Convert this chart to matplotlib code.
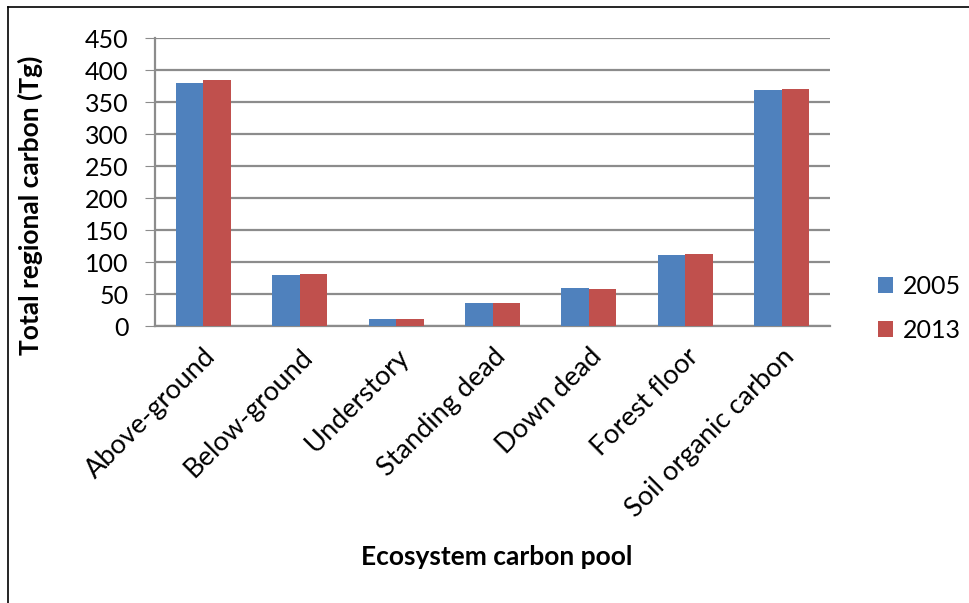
import numpy as np
import matplotlib
matplotlib.use("Agg")
import matplotlib.pyplot as plt
from matplotlib.lines import Line2D

plt.rcParams['font.family'] = ['Lato', 'DejaVu Sans']

# Data
pools = ["Above-ground", "Below-ground", "Understory", "Standing dead",
         "Down dead", "Forest floor", "Soil organic carbon"]
carbon_2005 = [380, 80, 11, 36, 59, 111, 368]
carbon_2013 = [385, 81, 11, 36, 58, 113, 371]
yticks = [0, 50, 100, 150, 200, 250, 300, 350, 400, 450]

fig = plt.figure(figsize=(9.69, 6.03), dpi=100)
ax = fig.add_axes([155 / 969, 1 - 326 / 603, (830 - 155) / 969, (326 - 38) / 603])

x = np.arange(len(pools))
w = 0.285
ax.bar(x - w / 2, carbon_2005, w, color="#4F81BD", label="2005", zorder=3)
ax.bar(x + w / 2, carbon_2013, w, color="#C0504D", label="2013", zorder=3)

ax.set_xlim(-0.5, len(pools) - 0.5)
ax.set_ylim(0, 450)
ax.set_yticks(yticks)
ax.yaxis.grid(True, color="#8C8C8C", linewidth=1.6, zorder=0)
ax.tick_params(axis="y", length=7, color="#8C8C8C", labelsize=18, pad=12)
ax.tick_params(axis="x", length=0, labelsize=19.5, pad=13)
ax.set_xticks(x)
ax.set_xticklabels(pools, rotation=45, ha="right", rotation_mode="anchor")

for s in ["top", "right"]:
    ax.spines[s].set_visible(False)
for s in ["left", "bottom"]:
    ax.spines[s].set_color("#8C8C8C")
    ax.spines[s].set_linewidth(1.6)

fig.text(30 / 969, 1 - 205 / 603, "Total regional carbon (Tg)", fontsize=19,
         fontweight="bold", rotation=90, ha="center", va="center")
fig.text(497 / 969, 1 - 557 / 603, "Ecosystem carbon pool", fontsize=19,
         fontweight="bold", ha="center", va="center")

leg = ax.legend(loc="center left", bbox_to_anchor=(1.071, 0.061), frameon=False,
                fontsize=18, handlelength=0.6, handleheight=0.6,
                labelspacing=0.85, handletextpad=0.4,
                borderaxespad=0, borderpad=0)

# chart border (top and left visible)
fig.add_artist(Line2D([8 / 969, 8 / 969], [0, 1 - 7 / 603], color="black", linewidth=1.2))
fig.add_artist(Line2D([8 / 969, 1], [1 - 7 / 603, 1 - 7 / 603], color="black", linewidth=1.2))

fig.savefig("out.png", dpi=100)
